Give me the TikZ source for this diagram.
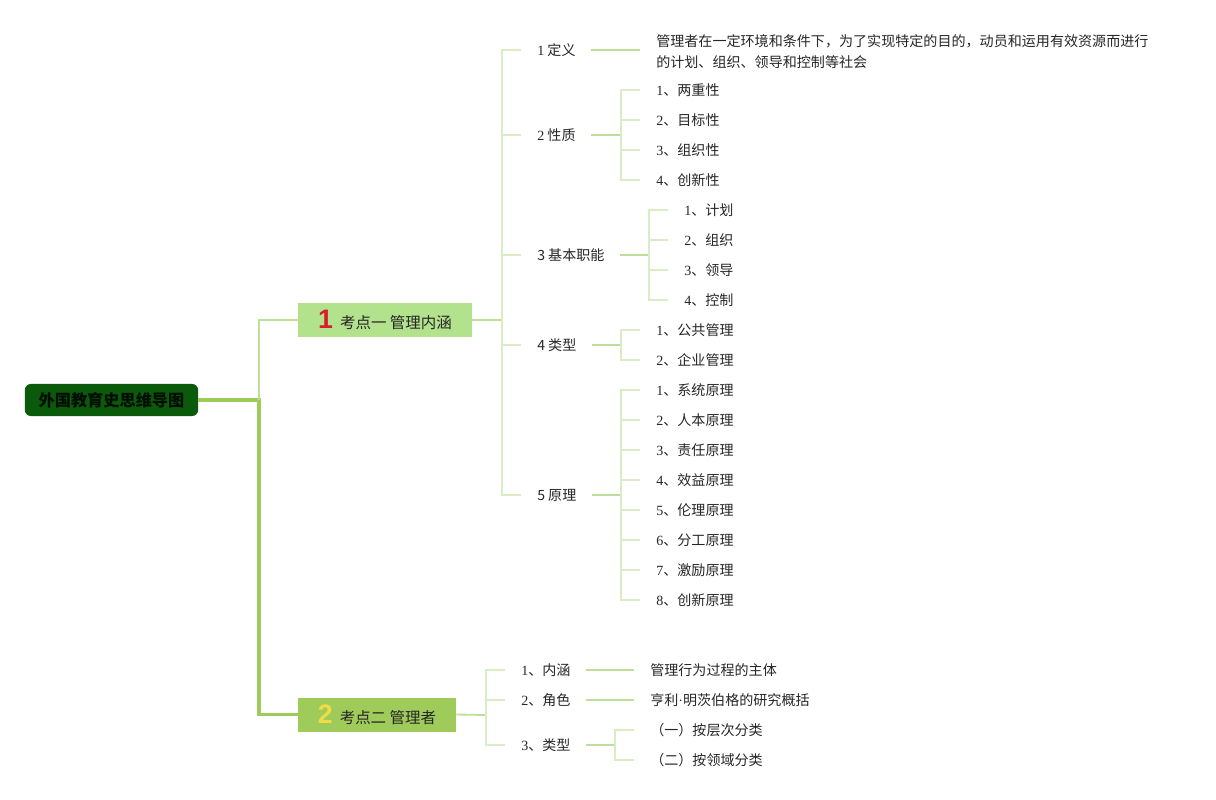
\documentclass[tikz,border=0pt]{standalone}
\usepackage{fontspec}
\setmainfont{Liberation Serif}
\newfontfamily\zh{Noto Sans CJK SC}
\newfontfamily\numfont{Liberation Sans}
\usepackage{xcolor}
\usepackage{tikz}
\usetikzlibrary{positioning}
\definecolor{rootgreen}{HTML}{0B5A0B}
\definecolor{topicA}{HTML}{B3E28C}
\definecolor{topicB}{HTML}{9ECB5A}
\definecolor{stubgreen}{HTML}{BCE09A}
\definecolor{spinegreen}{HTML}{D9EDC4}
\definecolor{numred}{HTML}{D81E2A}
\definecolor{numyellow}{HTML}{F2DC45}
\newcommand\nr[1]{{\rmfamily #1}}
\newcommand\bignum[2]{{\color{#1}\numfont\bfseries\fontsize{19}{19}\selectfont #2}\hspace{5pt}}

\begin{document}
\begin{tikzpicture}[x=0.025cm, y=-0.025cm,
    every node/.style={font=\zh\fontsize{10}{13.5}\selectfont, inner xsep=0pt, inner ysep=1pt, text=black!85},
    root/.style={fill=rootgreen, rounded corners=0.15cm, minimum width=4.33cm, minimum height=0.8cm,
      font=\zh\bfseries\fontsize{11.5}{13}\selectfont, text=black!85!rootgreen},
    topic/.style={minimum height=0.85cm, font=\zh\fontsize{11}{13}\selectfont},
    item/.style={anchor=west},
    trunk/.style={draw=topicB, line width=2.8pt},
    stub/.style={draw=stubgreen, line width=1.3pt},
    spine/.style={draw=spinegreen, line width=1.3pt},
    gapin/.style={shorten <=0.375cm},
    gapout/.style={shorten >=0.4cm}]
    \useasboundingbox (0,0) rectangle (1216,800);
    % Root and the two topics
    \node[root] (root) at (111.5,400) {外国教育史思维导图};
    \node[topic, fill=topicA, minimum width=4.35cm] (t1) at (385,320)
      {\bignum{numred}{1}考点一 管理内涵};
    \node[topic, fill=topicB, minimum width=3.95cm] (t2) at (377,714.5)
      {\bignum{numyellow}{2}考点二 管理者};
    \coordinate (jr) at (259,400);
    \draw[trunk] (root.east) -- (jr) |- (t2.west);
    \draw[stub, line width=1.6pt] (jr) |- (t1.west);
    % Topic 1: children
    \coordinate (ja) at (502,320);
    \draw[stub] (t1.east) -- (ja);
    \node[item] (c1) at (537,50) {\nr{1} 定义};
    \node[item] (c2) at (537,135) {\nr{2} 性质};
    \node[item] (c3) at (537,255) {3 基本职能};
    \node[item] (c4) at (537,345) {4 类型};
    \node[item] (c5) at (537,495) {5 原理};
    \foreach \c in {c1,c2,c3,c4,c5}
      \draw[spine, gapout] (ja) |- (\c.west);
    % 1 definition
    \node[item, align=left] (d1) at (656,52)
      {管理者在一定环境和条件下，为了实现特定的目的，动员和运用有效资源而进行\\[1.5pt]的计划、组织、领导和控制等社会};
    \draw[stub, gapin, gapout] (c1.east) -- (d1.west |- c1.east);
    % 2 nature
    \coordinate (j2) at (621,135);
    \draw[stub, gapin] (c2.east) -- (j2);
    \foreach \t [count=\i] in {两重性, 目标性, 组织性, 创新性} {
      \node[item] (n\i) at (656,{60+30*\i}) {\nr{\i}、\t};
      \draw[spine, gapout] (j2) |- (n\i.west);
    }
    % 3 functions
    \coordinate (j3) at (649,255);
    \draw[stub, gapin] (c3.east) -- (j3);
    \foreach \t [count=\i] in {计划, 组织, 领导, 控制} {
      \node[item] (f\i) at (684,{180+30*\i}) {\nr{\i}、\t};
      \draw[spine, gapout] (j3) |- (f\i.west);
    }
    % 4 types
    \coordinate (j4) at (621,345);
    \draw[stub, gapin] (c4.east) -- (j4);
    \foreach \t [count=\i] in {公共管理, 企业管理} {
      \node[item] (k\i) at (656,{300+30*\i}) {\nr{\i}、\t};
      \draw[spine, gapout] (j4) |- (k\i.west);
    }
    % 5 principles
    \coordinate (j5) at (621,495);
    \draw[stub, gapin] (c5.east) -- (j5);
    \foreach \t [count=\i] in {系统原理, 人本原理, 责任原理, 效益原理, 伦理原理, 分工原理, 激励原理, 创新原理} {
      \node[item] (p\i) at (656,{360+30*\i}) {\nr{\i}、\t};
      \draw[spine, gapout] (j5) |- (p\i.west);
    }
    % Topic 2: children
    \coordinate (jb) at (486,715);
    \draw[stub] (t2.east) -- (jb);
    \node[item] (e1) at (521,670) {\nr{1}、内涵};
    \node[item] (e2) at (521,700) {\nr{2}、角色};
    \node[item] (e3) at (521,745) {\nr{3}、类型};
    \foreach \c in {e1,e2,e3}
      \draw[spine, gapout] (jb) |- (\c.west);
    \node[item] (g1) at (650,670) {管理行为过程的主体};
    \node[item] (g2) at (650,700) {亨利{\rmfamily ·}明茨伯格的研究概括};
    \draw[stub, gapin, gapout] (e1.east) -- (g1.west);
    \draw[stub, gapin, gapout] (e2.east) -- (g2.west);
    \coordinate (j6) at (615,745);
    \draw[stub, gapin] (e3.east) -- (j6);
    \node[item] (h1) at (650,730) {（一）按层次分类};
    \node[item] (h2) at (650,760) {（二）按领域分类};
    \draw[spine, gapout] (j6) |- (h1.west);
    \draw[spine, gapout] (j6) |- (h2.west);
\end{tikzpicture}
\end{document}
